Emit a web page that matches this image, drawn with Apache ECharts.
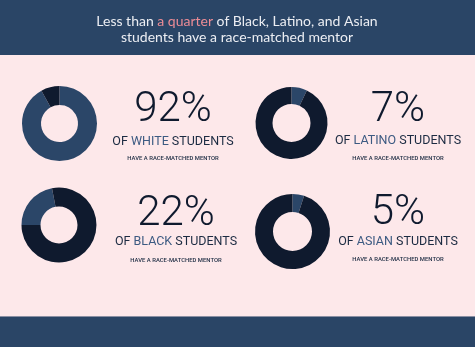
<!DOCTYPE html>
<html>
<head>
<meta charset="utf-8">
<script src="https://cdn.jsdelivr.net/npm/echarts@6/dist/echarts.min.js"></script>
<style>
  html, body { margin: 0; padding: 0; background: #fde8ea; }
  #chart { width: 475px; height: 347px; }
</style>
</head>
<body>
<div id="chart"></div>
<script>
// Share of students with a race-matched mentor, by group
const groups = ['WHITE', 'LATINO', 'BLACK', 'ASIAN'];
const matchedPct = [92, 7, 22, 5];
const titleLines = ['Less than ', 'a quarter', ' of Black, Latino, and Asian', 'students have a race-matched mentor'];
const subCaption = 'HAVE A RACE-MATCHED MENTOR';

const NAVY_MID = '#2b4668';
const NAVY_DARK = '#0f1a2e';
const PINK_BG = '#fde8ea';

// layout of each panel: donut centre, radii, start angle, text column centre
const panels = [
  { cx: 59.5, cy: 123.5, r: [18.5, 37.5], start: 90, tx: 173, numY: 110, ofY: 141.5, subY: 159 },
  { cx: 291.5, cy: 123, r: [19, 36], start: 90, tx: 398, numY: 110.5, ofY: 141, subY: 159 },
  { cx: 59, cy: 225, r: [18.5, 37.5], start: 180, tx: 176, numY: 214, ofY: 241.5, subY: 261 },
  { cx: 292.5, cy: 231.5, r: [19.5, 37.5], start: 90, tx: 398, numY: 213, ofY: 241.5, subY: 260 }
];

const chart = echarts.init(document.getElementById('chart'), null, { renderer: 'canvas' });

const series = groups.map((g, i) => {
  const p = panels[i];
  const v = matchedPct[i];
  return {
    type: 'pie',
    center: [p.cx, p.cy],
    radius: p.r,
    startAngle: p.start,
    clockwise: true,
    silent: true,
    label: { show: false },
    labelLine: { show: false },
    itemStyle: { borderWidth: 0 },
    emphasis: { disabled: true },
    animation: false,
    data: [
      { value: v, name: g + ' matched', itemStyle: { color: NAVY_MID } },
      { value: 100 - v, name: g + ' not matched', itemStyle: { color: NAVY_DARK } }
    ]
  };
});

const texts = [];
groups.forEach((g, i) => {
  const p = panels[i];
  texts.push({
    type: 'text', x: p.tx, y: p.numY, silent: true,
    style: {
      text: matchedPct[i] + '%',
      fill: NAVY_DARK,
      font: '300 42px Roboto',
      align: 'center', verticalAlign: 'middle'
    }
  });
  texts.push({
    type: 'text', x: p.tx, y: p.ofY, silent: true,
    style: {
      text: '{a|OF }{b|' + g + '}{a| STUDENTS}',
      align: 'center', verticalAlign: 'middle',
      rich: {
        a: { fill: '#1c2b42', font: '12.5px Roboto' },
        b: { fill: '#3c5a82', font: '12.5px Roboto' }
      }
    }
  });
  texts.push({
    type: 'text', x: p.tx, y: p.subY, silent: true,
    style: {
      text: subCaption,
      fill: '#1c2b42',
      font: '500 5.9px Roboto',
      align: 'center', verticalAlign: 'middle'
    }
  });
});

chart.setOption({
  backgroundColor: PINK_BG,
  animation: false,
  graphic: [
    { type: 'rect', silent: true, z: -1, shape: { x: 0, y: 0, width: 475, height: 55 }, style: { fill: '#2a4566' } },
    { type: 'rect', silent: true, z: -1, shape: { x: 0, y: 316, width: 475, height: 1 }, style: { fill: '#8a8fa3' } },
    { type: 'rect', silent: true, z: -1, shape: { x: 0, y: 317, width: 475, height: 30 }, style: { fill: '#2a4566' } },
    {
      type: 'text', x: 237, y: 21, silent: true,
      style: {
        text: '{w|' + titleLines[0] + '}{p|' + titleLines[1] + '}{w|' + titleLines[2] + '}',
        align: 'center', verticalAlign: 'middle',
        rich: {
          w: { fill: '#eceef3', font: '14px Lato' },
          p: { fill: '#ec8c96', font: '14px Lato' }
        }
      }
    },
    {
      type: 'text', x: 237, y: 37, silent: true,
      style: {
        text: titleLines[3],
        fill: '#eceef3', font: '14px Lato',
        align: 'center', verticalAlign: 'middle'
      }
    }
  ].concat(texts),
  series: series
});
</script>
</body>
</html>
